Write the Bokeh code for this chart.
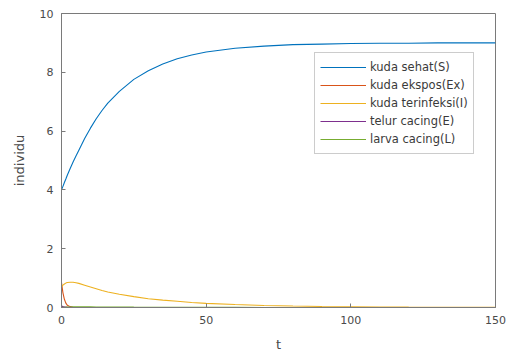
from bokeh.plotting import figure
from bokeh.models import Legend, LegendItem, Range1d
from bokeh.embed import file_html
from bokeh.resources import INLINE

t = [0, 0.5, 1, 1.5, 2, 3, 4, 5, 6, 8, 10, 12, 14, 16, 20, 25, 30, 35, 40, 45,
     50, 60, 70, 80, 90, 100, 110, 120, 130, 140, 150]
S = [4.0, 4.12, 4.25, 4.37, 4.5, 4.73, 4.95, 5.15, 5.35, 5.75, 6.1, 6.42, 6.7, 6.95,
     7.35, 7.76, 8.05, 8.28, 8.46, 8.59, 8.69, 8.82, 8.89, 8.94, 8.96, 8.98, 8.99,
     8.99, 9.0, 9.0, 9.0]
Ex = [0.85, 0.5, 0.28, 0.15, 0.08, 0.03, 0.01, 0.0, 0.0, 0.0, 0.0, 0.0, 0.0, 0.0,
      0.0, 0.0, 0.0, 0.0, 0.0, 0.0, 0.0, 0.0, 0.0, 0.0, 0.0, 0.0, 0.0, 0.0, 0.0, 0.0, 0.0]
I = [0.70, 0.76, 0.80, 0.83, 0.85, 0.86, 0.86, 0.84, 0.82, 0.76, 0.70, 0.64, 0.58,
     0.53, 0.45, 0.37, 0.30, 0.25, 0.21, 0.17, 0.14, 0.10, 0.07, 0.05, 0.035, 0.025,
     0.018, 0.012, 0.008, 0.005, 0.004]
E = [0.05, 0.03, 0.02, 0.015, 0.01, 0.005, 0.0, 0.0, 0.0, 0.0, 0.0, 0.0, 0.0, 0.0,
     0.0, 0.0, 0.0, 0.0, 0.0, 0.0, 0.0, 0.0, 0.0, 0.0, 0.0, 0.0, 0.0, 0.0, 0.0, 0.0, 0.0]
L = [0.0, 0.005, 0.01, 0.012, 0.015, 0.018, 0.02, 0.02, 0.02, 0.02, 0.02, 0.019,
     0.018, 0.017, 0.015, 0.012, 0.01, 0.008, 0.007, 0.006, 0.005, 0.003, 0.002,
     0.001, 0.0, 0.0, 0.0, 0.0, 0.0, 0.0, 0.0]

labels = ["kuda sehat(S)", "kuda ekspos(Ex)", "kuda terinfeksi(I)",
          "telur cacing(E)", "larva cacing(L)"]
colors = ["#0072BD", "#D95319", "#EDB120", "#7E2F8E", "#77AC30"]
x_ticks = [0, 50, 100, 150]
y_ticks = [0, 2, 4, 6, 8, 10]

p = figure(width=508, height=354, output_backend="svg", toolbar_location=None,
           x_range=Range1d(0, 150), y_range=Range1d(0, 10),
           min_border_left=61, min_border_right=13, min_border_top=13,
           min_border_bottom=46)
p.xgrid.visible = False
p.ygrid.visible = False
p.outline_line_color = "#7a7a7a"
p.outline_line_width = 1

for ax in (p.xaxis, p.yaxis):
    ax.axis_line_color = "#7a7a7a"
    ax.major_tick_line_color = "#7a7a7a"
    ax.major_tick_in = 4
    ax.major_tick_out = 0
    ax.minor_tick_line_color = None
    ax.major_label_text_font = "DejaVu Sans"
    ax.major_label_text_font_size = "11px"
    ax.major_label_text_color = "#4a4a4a"
    ax.axis_label_text_font = "DejaVu Sans"
    ax.axis_label_text_font_size = "13px"
    ax.axis_label_text_font_style = "normal"
    ax.axis_label_text_color = "#4a4a4a"

p.xaxis.ticker = x_ticks
p.yaxis.ticker = y_ticks
p.xaxis.axis_label = "t"
p.yaxis.axis_label = "individu"
p.xaxis.major_label_standoff = 8
p.yaxis.major_label_standoff = 8
p.xaxis.axis_label_standoff = 10
p.yaxis.axis_label_standoff = 10

series = [S, Ex, I, E, L]
items = []
for ys, c, lab in zip(series, colors, labels):
    r = p.line(t, ys, line_color=c, line_width=1.1)
    items.append(LegendItem(label=lab, renderers=[r]))

legend = Legend(items=items, location=(253, 153))
legend.border_line_color = "#9a9a9a"
legend.border_line_width = 1
legend.background_fill_color = "white"
legend.background_fill_alpha = 1
legend.label_text_font = "DejaVu Sans"
legend.label_text_font_size = "11.5px"
legend.label_text_color = "#3a3a3a"
legend.glyph_width = 46
legend.glyph_height = 18
legend.label_height = 18
legend.label_standoff = 4
legend.spacing = 0
legend.padding = 5
legend.margin = 0
p.add_layout(legend)

open("out.html", "w").write(file_html(p, INLINE))
